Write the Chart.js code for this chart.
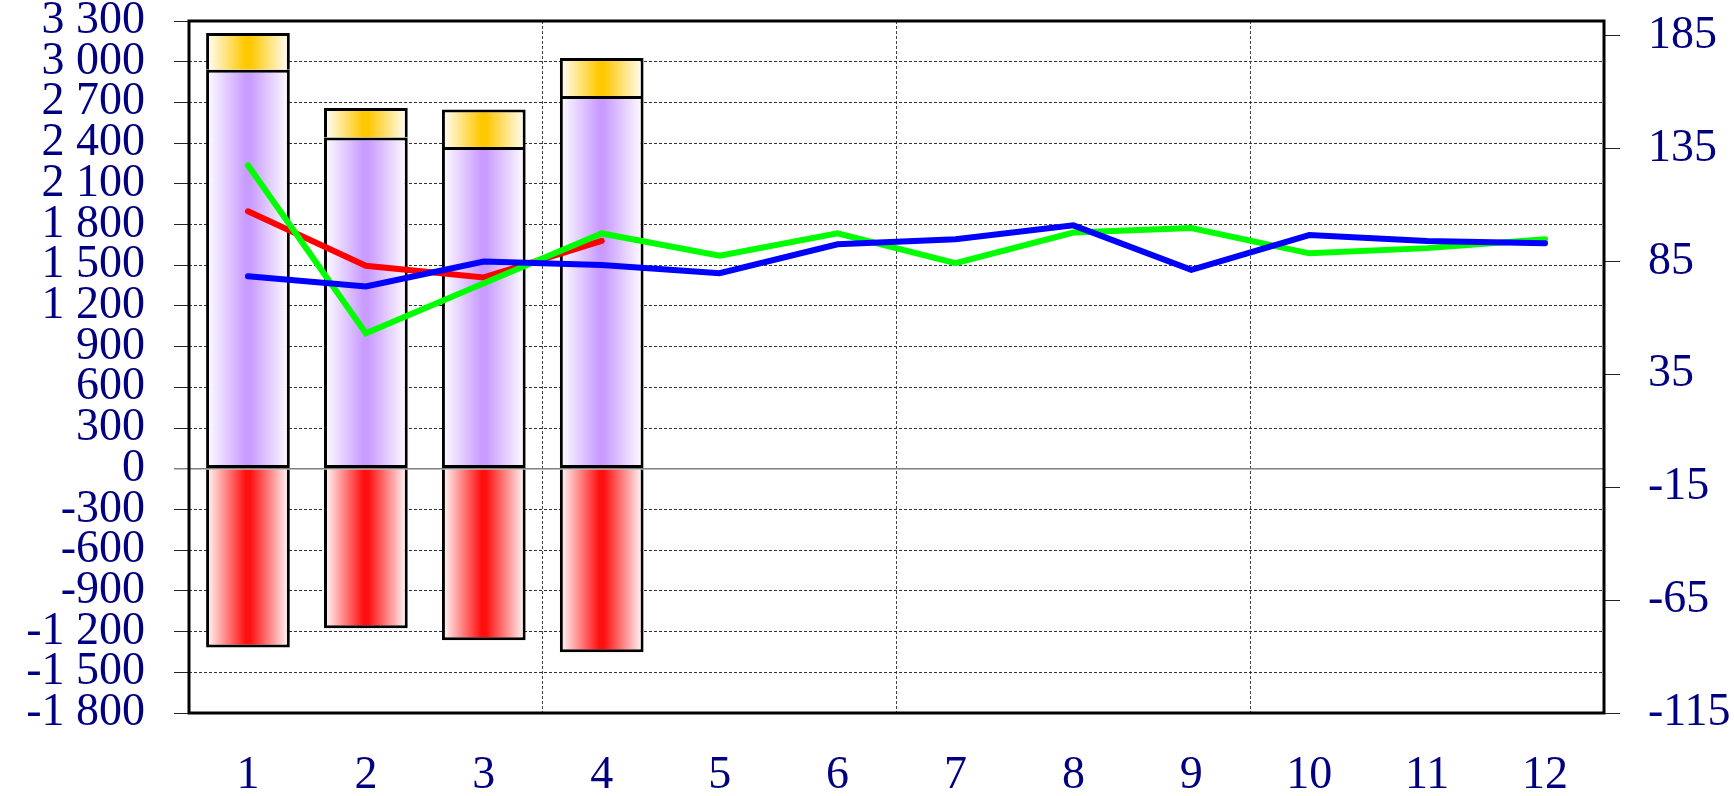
<!DOCTYPE html>
<html>
<head>
<meta charset="utf-8">
<script src="https://cdn.jsdelivr.net/npm/chart.js@4"></script>
<style>
  body { margin: 0; background: #fff; }
  #wrap { width: 1734px; height: 796px; }
</style>
</head>
<body>
<div id="wrap"><canvas id="chart" width="1734" height="796"></canvas></div>
<script>
const categories = ['1', '2', '3', '4', '5', '6', '7', '8', '9', '10', '11', '12'];

// bars (left axis)
const purpleValues = [2940, 2442, 2371, 2747];
const orangeValues = [272, 217, 277, 280];
const redValues = [-1318, -1175, -1264, -1352];

// lines (right axis)
const redLine = [107.2, 83.1, 77.9, 94.1];
const greenLine = [127.6, 53.2, 75.3, 97.4, 87.5, 97.5, 84.2, 97.8, 99.8, 88.6, 90.9, 94.8];
const blueLine = [78.4, 73.9, 85.0, 83.4, 79.8, 92.6, 94.8, 101.0, 81.3, 96.7, 94.1, 93.1];

const leftTicks = [-1800, -1500, -1200, -900, -600, -300, 0, 300, 600, 900, 1200, 1500, 1800, 2100, 2400, 2700, 3000, 3300];
const rightTicks = [-115, -65, -15, 35, 85, 135, 185];
const rightMax = 191.5;

const navy = '#000080';
const labelFont = { family: '"Liberation Serif", serif', size: 46, lineHeight: 1 };
const barPct = 0.71;

function fmt(v) {
  const s = Math.abs(v).toString().replace(/\B(?=(\d{3})+(?!\d))/g, ' ');
  return (v < 0 ? '-' : '') + s;
}

// white -> colour -> white across each bar
function barGradient(color) {
  return ctx => {
    const chart = ctx.chart;
    const x = chart.scales.x;
    if (!x || !chart.chartArea || ctx.type !== 'data') return color;
    const cx = x.getPixelForValue(ctx.dataIndex);
    const half = x.width / categories.length * barPct / 2;
    const g = chart.ctx.createLinearGradient(cx - half, 0, cx + half, 0);
    g.addColorStop(0, '#ffffff');
    g.addColorStop(0.47, color);
    g.addColorStop(0.53, color);
    g.addColorStop(1, '#ffffff');
    return g;
  };
}

const framePlugin = {
  id: 'frame',
  afterDraw(chart) {
    const { ctx, chartArea: a } = chart;
    ctx.save();
    ctx.strokeStyle = '#000';
    ctx.lineWidth = 3;
    ctx.strokeRect(a.left, a.top, a.right - a.left, a.bottom - a.top);
    ctx.restore();
  }
};

const barStyle = {
  type: 'bar',
  yAxisID: 'y',
  stack: 'bars',
  borderColor: '#000',
  borderWidth: 3,
  order: 3
};

const lineStyle = {
  type: 'line',
  yAxisID: 'y1',
  borderWidth: 6,
  pointRadius: 0,
  borderCapStyle: 'round',
  fill: false,
  tension: 0
};

new Chart(document.getElementById('chart'), {
  data: {
    labels: categories,
    datasets: [
      { ...barStyle, data: purpleValues, borderSkipped: false, backgroundColor: barGradient('#c99cff') },
      { ...barStyle, data: orangeValues, borderSkipped: 'start', backgroundColor: barGradient('#ffc800') },
      { ...barStyle, data: redValues, borderSkipped: 'start', backgroundColor: barGradient('#ff1010') },
      { ...lineStyle, data: redLine, borderColor: '#ff0000', order: 2 },
      { ...lineStyle, data: greenLine, borderColor: '#00ff00', order: 1 },
      { ...lineStyle, data: blueLine, borderColor: '#0000ff', order: 0 }
    ]
  },
  options: {
    responsive: false,
    devicePixelRatio: 1,
    animation: false,
    layout: { padding: { top: 21, left: 0, right: 0, bottom: 0 } },
    categoryPercentage: 1,
    barPercentage: barPct,
    plugins: { legend: { display: false }, tooltip: { enabled: false } },
    scales: {
      x: {
        stacked: true,
        offset: true,
        grid: {
          offset: true,
          drawTicks: false,
          lineWidth: 1,
          color: c => (c.index === 3 || c.index === 6 || c.index === 9) ? '#444' : 'rgba(0,0,0,0)'
        },
        border: { display: false, dash: [3, 2] },
        ticks: { color: navy, font: labelFont, padding: 40, maxRotation: 0, autoSkip: false },
        afterFit: s => { s.height = 83; s.paddingLeft = 0; s.paddingRight = 0; }
      },
      y: {
        position: 'left',
        stacked: true,
        min: leftTicks[0],
        max: leftTicks[leftTicks.length - 1],
        afterBuildTicks: s => { s.ticks = leftTicks.map(v => ({ value: v })); },
        grid: {
          tickLength: 15,
          lineWidth: c => c.tick && c.tick.value === 0 ? 1.5 : 1,
          color: c => c.tick && c.tick.value === 0 ? '#808080' : '#333',
          tickColor: c => c.tick && c.tick.value === 0 ? '#808080' : '#222'
        },
        border: { display: false, dash: c => c.tick && c.tick.value === 0 ? [] : [3, 2] },
        ticks: { color: navy, font: labelFont, padding: 29, autoSkip: false, callback: v => fmt(v) },
        afterFit: s => { s.width = 189; s.paddingTop = 0; s.paddingBottom = 0; }
      },
      y1: {
        position: 'right',
        min: rightTicks[0],
        max: rightMax,
        afterBuildTicks: s => { s.ticks = rightTicks.map(v => ({ value: v })); },
        grid: { drawOnChartArea: false, tickLength: 16, tickColor: '#222' },
        border: { display: false },
        ticks: { color: navy, font: labelFont, padding: 28, autoSkip: false },
        afterFit: s => { s.width = 130; s.paddingTop = 0; s.paddingBottom = 0; }
      }
    }
  },
  plugins: [framePlugin]
});
</script>
</body>
</html>
